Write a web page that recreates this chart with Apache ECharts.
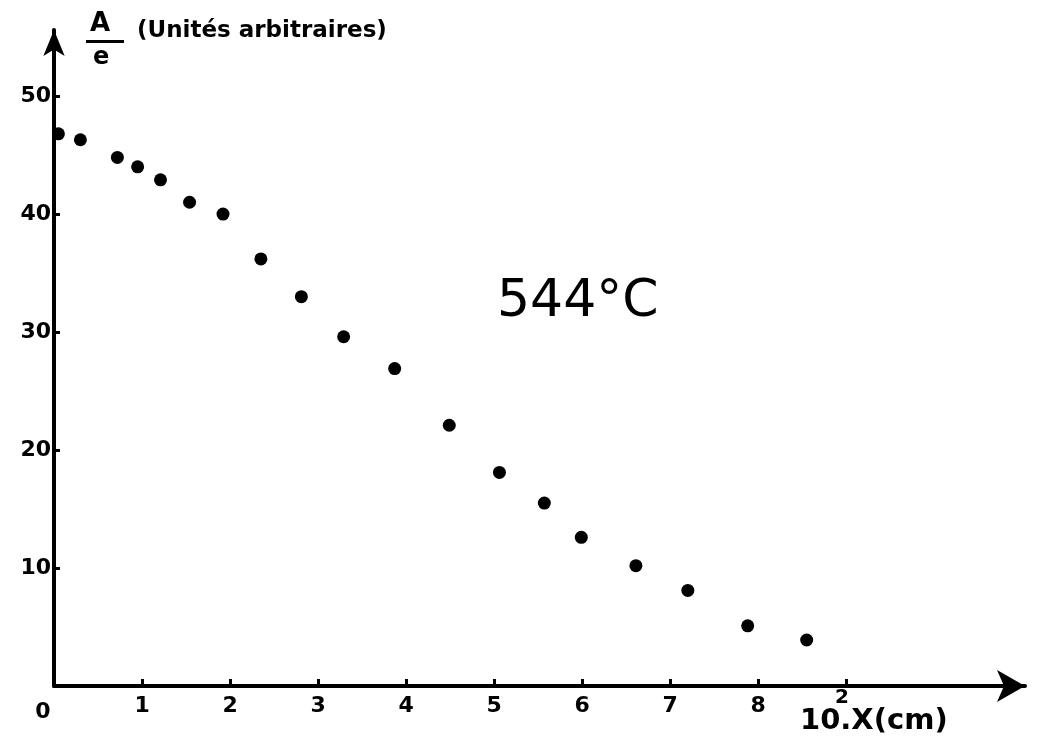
<!DOCTYPE html>
<html>
<head>
<meta charset="utf-8">
<script src="https://cdn.jsdelivr.net/npm/echarts@6/dist/echarts.min.js"></script>
<style>
  html, body { margin: 0; padding: 0; background: #ffffff; }
  #chart { width: 1041px; height: 744px; }
</style>
</head>
<body>
<div id="chart"></div>
<script>
// Distance 10^2·X (cm) and absorbance per thickness A/e (arbitrary units), 544 °C
const xValues = [0.05, 0.30, 0.72, 0.95, 1.21, 1.54, 1.92, 2.35, 2.81, 3.29,
                 3.87, 4.49, 5.06, 5.57, 5.99, 6.61, 7.20, 7.88, 8.55];
const yValues = [46.8, 46.3, 44.8, 44.0, 42.9, 41.0, 40.0, 36.2, 33.0, 29.6,
                 26.9, 22.1, 18.1, 15.5, 12.6, 10.2, 8.1, 5.1, 3.9];

const xLabelValues = [0, 1, 2, 3, 4, 5, 6, 7, 8];
const xTickValues = [1, 2, 3, 4, 5, 6, 7, 8, 9];
const yTickValues = [10, 20, 30, 40, 50];

const temperatureLabel = '544°C';
const yTitleTop = 'A';
const yTitleBottom = 'e';
const yTitleUnits = '(Unités arbitraires)';
const xTitleMain = '10.X(cm)';
const xTitleExp = '2';

const points = xValues.map((x, i) => [x, yValues[i]]);

const FONT = '"DejaVu Sans", sans-serif';
const INK = '#000000';

const chart = echarts.init(document.getElementById('chart'), null, { renderer: 'canvas' });

chart.setOption({
  backgroundColor: '#ffffff',
  animation: false,
  grid: { left: 54, right: 16, top: 30, bottom: 58 },
  xAxis: {
    type: 'value',
    min: 0,
    max: 11.03,
    interval: 1,
    splitLine: { show: false },
    axisLine: {
      show: true,
      onZero: false,
      symbol: ['none', 'arrow'],
      symbolSize: [24, 28],
      lineStyle: { color: INK, width: 4 }
    },
    axisTick: {
      show: true,
      inside: true,
      length: 7,
      customValues: xTickValues,
      lineStyle: { color: INK, width: 3 }
    },
    axisLabel: {
      show: true,
      customValues: xLabelValues,
      margin: 9,
      color: INK,
      fontFamily: FONT,
      fontWeight: 'bold',
      fontSize: 22,
      formatter: v => (v === 0 ? '{z|0}' : String(v)),
      rich: {
        z: {
          fontFamily: FONT,
          fontWeight: 'bold',
          fontSize: 22,
          color: INK,
          padding: [6, 22, 0, 0]
        }
      }
    }
  },
  yAxis: {
    type: 'value',
    min: 0,
    max: 55.6,
    interval: 10,
    splitLine: { show: false },
    axisLine: {
      show: true,
      onZero: false,
      symbol: ['none', 'arrow'],
      symbolSize: [16, 26],
      lineStyle: { color: INK, width: 4 }
    },
    axisTick: {
      show: true,
      inside: true,
      length: 6,
      customValues: yTickValues,
      lineStyle: { color: INK, width: 3 }
    },
    axisLabel: {
      show: true,
      customValues: yTickValues,
      margin: 3,
      color: INK,
      fontFamily: FONT,
      fontWeight: 'bold',
      fontSize: 22
    }
  },
  series: [{
    type: 'scatter',
    data: points,
    symbol: 'circle',
    symbolSize: 13,
    itemStyle: { color: INK, opacity: 1 },
    silent: true
  }],
  graphic: [
    {
      type: 'text',
      left: 497, top: 276,
      style: { text: temperatureLabel, font: '52px ' + FONT, fill: INK }
    },
    {
      type: 'text',
      left: 90, top: 11,
      style: { text: yTitleTop, font: 'bold 26px ' + FONT, fill: INK }
    },
    {
      type: 'rect',
      shape: { x: 86, y: 40, width: 38, height: 3 },
      style: { fill: INK }
    },
    {
      type: 'text',
      left: 93, top: 46,
      style: { text: yTitleBottom, font: 'bold 24px ' + FONT, fill: INK }
    },
    {
      type: 'text',
      left: 137, top: 20,
      style: { text: yTitleUnits, font: 'bold 23px ' + FONT, fill: INK }
    },
    {
      type: 'text',
      left: 800, top: 707,
      style: { text: xTitleMain, font: 'bold 29px ' + FONT, fill: INK }
    },
    {
      type: 'text',
      left: 835, top: 688,
      style: { text: xTitleExp, font: 'bold 20px ' + FONT, fill: INK }
    }
  ]
});
</script>
</body>
</html>
